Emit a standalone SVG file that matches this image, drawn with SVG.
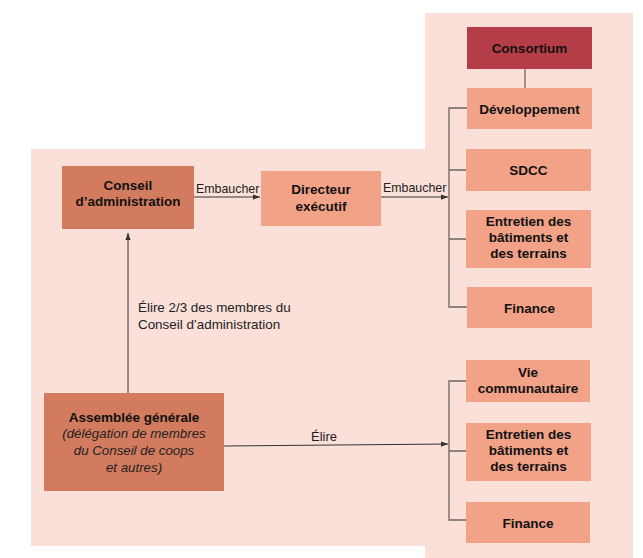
<svg xmlns="http://www.w3.org/2000/svg" width="643" height="558" viewBox="0 0 643 558">
<style>
.bg{fill:#fae0d9}
.dark{fill:#b53d47}
.mid{fill:#d37b5e}
.light{fill:#f2a287}
.b{font-family:"Liberation Sans",Arial,sans-serif;font-weight:bold;font-size:13.5px;fill:#111;text-anchor:middle}
.t{font-family:"Liberation Sans",Arial,sans-serif;font-size:12.4px;fill:#222}
.i{font-family:"Liberation Sans",Arial,sans-serif;font-style:italic;font-size:13.3px;fill:#222;text-anchor:middle}
.org{fill:none;stroke:#6e6360;stroke-width:1.3}
.arr{fill:none;stroke:#333;stroke-width:1;marker-end:url(#ah)}
</style>
<defs>
<marker id="ah" viewBox="0 0 8 8" refX="8" refY="4" markerWidth="7" markerHeight="7" markerUnits="userSpaceOnUse" orient="auto">
<path d="M0,1 L8,4 L0,7 Z" fill="#333"/>
</marker>
</defs>
<g id="backgrounds">
<rect class="bg" x="425" y="13" width="208" height="545"/>
<rect class="bg" x="31" y="149" width="402" height="397"/>
</g>
<g id="connectors">
<path class="org" d="M525,69 V88"/>
<path class="org" d="M467,108 H449 V307 H467 M449,170 H466 M449,239 H466"/>
<path class="org" d="M466,381 H449 V520 H466 M449,451 H466"/>
<path class="arr" d="M194,197 H260"/>
<path class="arr" d="M381,197 H448"/>
<path class="arr" d="M128,393 V233"/>
<path class="arr" d="M224,446 L448,444"/>
</g>
<g id="labels">
<text class="t" x="196" y="193">Embaucher</text>
<text class="t" x="383" y="192">Embaucher</text>
<text class="t" x="138" y="312" style="font-size:13.4px">Élire 2/3 des membres du</text>
<text class="t" x="138" y="329" style="font-size:13.4px">Conseil d’administration</text>
<text class="t" x="311" y="441" style="font-size:13px">Élire</text>
</g>
<g id="consortium">
<rect class="dark" x="467" y="27" width="125" height="42"/>
<text class="b" x="529.5" y="53">Consortium</text>
</g>
<g id="developpement">
<rect class="light" x="467" y="88" width="125" height="41"/>
<text class="b" x="529.5" y="113.5">Développement</text>
</g>
<g id="sdcc">
<rect class="light" x="466" y="149" width="125" height="42"/>
<text class="b" x="528.5" y="175">SDCC</text>
</g>
<g id="entretien1">
<rect class="light" x="466" y="210" width="125" height="58"/>
<text class="b" x="528.5" y="226">Entretien des</text>
<text class="b" x="528.5" y="242">bâtiments et</text>
<text class="b" x="528.5" y="258">des terrains</text>
</g>
<g id="finance1">
<rect class="light" x="467" y="287" width="125" height="41"/>
<text class="b" x="529.5" y="312.5">Finance</text>
</g>
<g id="conseil">
<rect class="mid" x="62" y="166" width="132" height="63"/>
<text class="b" x="128" y="190">Conseil</text>
<text class="b" x="128" y="206">d’administration</text>
</g>
<g id="directeur">
<rect class="light" x="261" y="171" width="120" height="55"/>
<text class="b" x="321" y="194">Directeur</text>
<text class="b" x="321" y="211">exécutif</text>
</g>
<g id="assemblee">
<rect class="mid" x="44" y="393" width="180" height="98"/>
<text class="b" x="134" y="422">Assemblée générale</text>
<text class="i" x="134" y="438">(délégation de membres</text>
<text class="i" x="134" y="455">du Conseil de coops</text>
<text class="i" x="134" y="471.5">et autres)</text>
</g>
<g id="vie">
<rect class="light" x="466" y="360" width="124" height="42"/>
<text class="b" x="528" y="377">Vie</text>
<text class="b" x="528" y="393">communautaire</text>
</g>
<g id="entretien2">
<rect class="light" x="466" y="423" width="125" height="58"/>
<text class="b" x="528.5" y="439">Entretien des</text>
<text class="b" x="528.5" y="455">bâtiments et</text>
<text class="b" x="528.5" y="471">des terrains</text>
</g>
<g id="finance2">
<rect class="light" x="466" y="502" width="124" height="41"/>
<text class="b" x="528" y="528">Finance</text>
</g>
</svg>
